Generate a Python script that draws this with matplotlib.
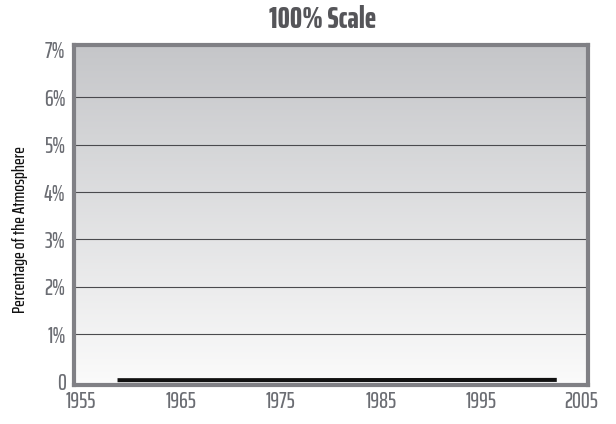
import numpy as np
import matplotlib
matplotlib.use("Agg")
import matplotlib.pyplot as plt
from matplotlib.colors import LinearSegmentedColormap

# Atmospheric CO2 (annual mean, ppm) shown as a share of the atmosphere
years = [1958.7, 1960, 1961, 1962, 1963, 1964, 1965, 1966, 1967, 1968, 1969,
         1970, 1971, 1972, 1973, 1974, 1975, 1976, 1977, 1978, 1979, 1980,
         1981, 1982, 1983, 1984, 1985, 1986, 1987, 1988, 1989, 1990, 1991,
         1992, 1993, 1994, 1995, 1996, 1997, 1998, 1999, 2000, 2001, 2002, 2002.6]
co2_ppm = [315.7, 316.9, 317.6, 318.5, 319.0, 319.6, 320.0, 321.4, 322.2, 323.0,
           324.6, 325.7, 326.3, 327.5, 329.7, 330.2, 331.1, 332.0, 333.8, 335.4,
           336.8, 338.8, 340.1, 341.5, 343.1, 344.7, 346.1, 347.4, 349.2, 351.6,
           353.1, 354.4, 355.6, 356.5, 357.1, 358.8, 360.8, 362.6, 363.7, 366.7,
           368.4, 369.6, 371.1, 373.3, 374.5]
co2_pct = [v / 10000.0 for v in co2_ppm]

x_ticks = [1955, 1965, 1975, 1985, 1995, 2005]
y_ticks = [0, 1, 2, 3, 4, 5, 6, 7]
y_labels = ["0", "1%", "2%", "3%", "4%", "5%", "6%", "7%"]

plt.rcParams['font.family'] = ['Saira ExtraCondensed', 'DejaVu Sans']

fig = plt.figure(figsize=(6.16, 4.24), dpi=100)
W, H = 616, 424
ax = fig.add_axes([74 / W, 1 - 385 / H, 514 / W, 340 / H])

# background gradient
grad = LinearSegmentedColormap.from_list("bg", ["#fbfbfb", "#c5c6c9"])
ax.imshow(np.linspace(0, 1, 256).reshape(-1, 1), cmap=grad, aspect="auto",
          origin="lower", extent=[0, 1, 0, 1], transform=ax.transAxes, zorder=0)

for y in y_ticks[1:-1]:
    ax.axhline(y, color="#4a4a4e", lw=0.8, zorder=1)

ax.plot(years, co2_pct, color="#111111", lw=2.9, solid_capstyle="butt", zorder=3)

ax.set_xlim(1954.35, 2005.72)
ax.set_ylim(-0.07, 7.1)
ax.set_xticks(x_ticks)
ax.set_xticklabels([str(t) for t in x_ticks])
ax.set_yticks(y_ticks)
ax.set_yticklabels(y_labels)
ax.tick_params(length=0, colors="#6b6d73", labelsize=16, pad=6)
ax.tick_params(axis="x", pad=4)
for lab in ax.get_xticklabels() + ax.get_yticklabels():
    lab.set_fontweight(500)

for s in ax.spines.values():
    s.set_color("#808085")
    s.set_linewidth(3)
    s.set_zorder(4)

ax.set_ylabel("Percentage of the Atmosphere", fontsize=13, color="#111111",
              fontweight=500)
ax.yaxis.set_label_coords(-46 / 514, (385 - 230) / 340)
fig.text(323 / W, 1 - 19 / H, "100% Scale", ha="center", va="center",
         fontsize=22, fontweight=800, color="#555559")

fig.savefig("out.png", dpi=100)
